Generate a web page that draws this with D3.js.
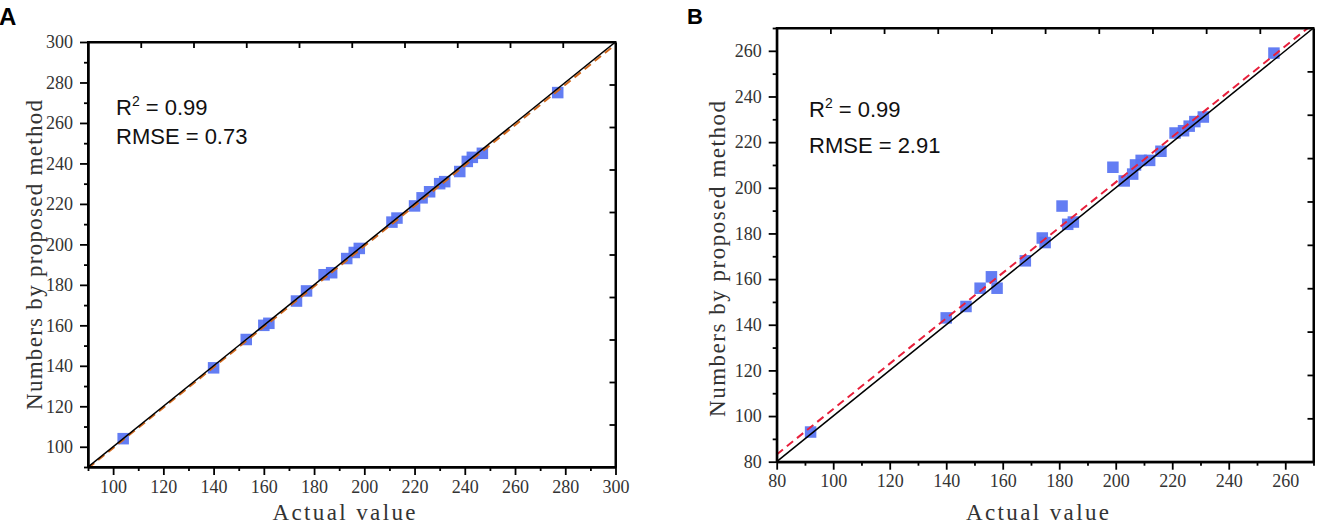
<!DOCTYPE html>
<html>
<head>
<meta charset="utf-8">
<script src="https://cdn.jsdelivr.net/npm/d3@7"></script>
<style>
  html, body { margin: 0; padding: 0; background: #fff; }
  svg { display: block; }
</style>
</head>
<body>
<svg id="chart" width="1320" height="528"></svg>
<script>
// ---------------- data ----------------
const actualA = [104,140,153,160,162,173,177,184,187,193,196,198,211,213,220,223,226,230,232,238,241,243,247,277];
const predA   = [104,139,153,160,161,172,177,185,186,193,196,198,211,213,219,223,226,230,231,236,241,243,245,275];
const actualB = [92,140,147,152,156,158,168,174,175,181,183,185,199,203,206,207,209,212,216,221,224,226,228,231,256];
const predB   = [93,143,148,156,161,156,168,178,176,192,184,185,209,203,206,210,212,212,216,224,225,227,229,231,259];
const fitA = [-0.3, 0.997];   // intercept, slope of fitted (dashed) line, panel A
const fitB = [3.7, 0.9936];   // intercept, slope of fitted (dashed) line, panel B
const statsA = ["0.99", "0.73"]; // R², RMSE
const statsB = ["0.99", "2.91"];
const domainA = [90, 300];
const domainB = [80, 270];
const majorA = [100,120,140,160,180,200,220,240,260,280,300];
const minorA = [90,110,130,150,170,190,210,230,250,270,290];
const mirrorA = [111,132,153,174,195,216,237,258,279];
const majorB = [80,100,120,140,160,180,200,220,240,260];
const minorB = [90,110,130,150,170,190,210,230,250,270];
const mirrorB = [99,118,137,156,175,194,213,232,251];

const svg = d3.select("#chart");
const serif = "'Liberation Serif', 'DejaVu Serif', serif";
const sans = "'Liberation Sans', Arial, sans-serif";

function panel(cfg) {
  const x = d3.scaleLinear().domain(cfg.domain).range([cfg.left, cfg.right]);
  const y = d3.scaleLinear().domain(cfg.domain).range([cfg.bottom, cfg.top]);
  const g = svg.append("g");

  // points
  g.append("g").selectAll("rect")
    .data(cfg.actual.map((a, i) => [a, cfg.pred[i]]))
    .join("rect")
    .attr("x", d => x(d[0]) - 5.75)
    .attr("y", d => y(d[1]) - 5.75)
    .attr("width", 11.5).attr("height", 11.5)
    .attr("fill", "#5672f2")
    .attr("fill-opacity", 0.92);

  // clip for lines
  const clipId = "clip" + cfg.id;
  svg.append("clipPath").attr("id", clipId)
    .append("rect").attr("x", cfg.left).attr("y", cfg.top)
    .attr("width", cfg.right - cfg.left).attr("height", cfg.bottom - cfg.top);

  const lines = g.append("g").attr("clip-path", `url(#${clipId})`);
  const d0 = cfg.domain[0], d1 = cfg.domain[1];
  // fitted dashed line
  lines.append("line")
    .attr("x1", x(d0)).attr("y1", y(cfg.fit[0] + cfg.fit[1] * d0))
    .attr("x2", x(d1)).attr("y2", y(cfg.fit[0] + cfg.fit[1] * d1))
    .attr("stroke", cfg.fitColor).attr("stroke-width", 2)
    .attr("stroke-dasharray", "8,5");
  // identity line
  lines.append("line")
    .attr("x1", x(d0)).attr("y1", y(d0))
    .attr("x2", x(d1)).attr("y2", y(d1))
    .attr("stroke", "#000").attr("stroke-width", 1.5);

  // axes
  const styleAxis = sel => {
    sel.select(".domain").attr("stroke", "#000").attr("stroke-width", 2);
    sel.selectAll(".tick line").attr("stroke", "#000").attr("stroke-width", 1.8);
    sel.selectAll(".tick text").attr("font-family", serif).attr("font-size", 18).attr("fill", "#333");
  };
  // bottom major
  g.append("g").attr("transform", `translate(0,${cfg.bottom})`)
    .call(d3.axisBottom(x).tickValues(cfg.major).tickSize(8).tickSizeOuter(0).tickPadding(5).tickFormat(d3.format("d")))
    .call(styleAxis);
  g.append("g").attr("transform", `translate(0,${cfg.bottom})`)
    .call(d3.axisBottom(x).tickValues(cfg.minor).tickSize(4).tickSizeOuter(0).tickFormat(""))
    .call(styleAxis);
  // left major
  g.append("g").attr("transform", `translate(${cfg.left},0)`)
    .call(d3.axisLeft(y).tickValues(cfg.major).tickSize(8).tickSizeOuter(0).tickPadding(7).tickFormat(d3.format("d")))
    .call(styleAxis);
  g.append("g").attr("transform", `translate(${cfg.left},0)`)
    .call(d3.axisLeft(y).tickValues(cfg.minor).tickSize(4).tickSizeOuter(0).tickFormat(""))
    .call(styleAxis);
  // top mirror (inward)
  g.append("g").attr("transform", `translate(0,${cfg.top})`)
    .call(d3.axisBottom(x).tickValues(cfg.mirror).tickSize(6).tickSizeOuter(0).tickFormat(""))
    .call(styleAxis);
  // right mirror (inward)
  g.append("g").attr("transform", `translate(${cfg.right},0)`)
    .call(d3.axisLeft(y).tickValues(cfg.mirror).tickSize(6).tickSizeOuter(0).tickFormat(""))
    .call(styleAxis);
  // frame
  g.append("rect")
    .attr("x", cfg.left).attr("y", cfg.top)
    .attr("width", cfg.right - cfg.left).attr("height", cfg.bottom - cfg.top)
    .attr("fill", "none").attr("stroke", "#000").attr("stroke-width", 2);

  // axis titles
  g.append("text")
    .attr("x", cfg.xTitleX).attr("y", cfg.xTitleY)
    .attr("text-anchor", "middle")
    .attr("font-family", serif).attr("font-size", 23).attr("fill", "#333")
    .attr("textLength", 143).attr("lengthAdjust", "spacing")
    .text("Actual value");
  g.append("text")
    .attr("transform", `translate(${cfg.yTitleX},${cfg.yTitleY}) rotate(-90)`)
    .attr("text-anchor", "middle")
    .attr("font-family", serif).attr("font-size", 23).attr("fill", "#333")
    .attr("textLength", cfg.yTitleLen).attr("lengthAdjust", "spacing")
    .text("Numbers by proposed method");

  // stats
  const t1 = g.append("text")
    .attr("x", cfg.statX).attr("y", cfg.statY)
    .attr("font-family", sans).attr("font-size", 22).attr("fill", "#111");
  t1.append("tspan").text("R");
  t1.append("tspan").attr("font-size", 14).attr("dy", -9).text("2");
  t1.append("tspan").attr("dy", 9).text(" = " + cfg.stats[0]);
  g.append("text")
    .attr("x", cfg.statX).attr("y", cfg.statY + cfg.statGap)
    .attr("font-family", sans).attr("font-size", 22).attr("fill", "#111")
    .text("RMSE = " + cfg.stats[1]);

  // panel letter
  g.append("text")
    .attr("x", cfg.letterX).attr("y", cfg.letterY)
    .attr("font-family", sans).attr("font-weight", "bold").attr("font-size", cfg.letterSize).attr("fill", "#000")
    .text(cfg.letter);
}

panel({
  id: "A", letter: "A", letterX: -1, letterY: 25, letterSize: 24,
  domain: domainA, left: 88, right: 615.5, top: 42, bottom: 467,
  actual: actualA, pred: predA, fit: fitA, fitColor: "#d2691e",
  major: majorA, minor: minorA, mirror: mirrorA,
  xTitleX: 344, xTitleY: 520, yTitleX: 42, yTitleY: 255, yTitleLen: 310,
  stats: statsA, statX: 116, statY: 115, statGap: 28.5
});

panel({
  id: "B", letter: "B", letterX: 687, letterY: 23.5, letterSize: 22,
  domain: domainB, left: 776.7, right: 1313.5, top: 28, bottom: 461.7,
  actual: actualB, pred: predB, fit: fitB, fitColor: "#e8203c",
  major: majorB, minor: minorB, mirror: mirrorB,
  xTitleX: 1037.5, xTitleY: 520, yTitleX: 725, yTitleY: 259, yTitleLen: 316,
  stats: statsB, statX: 809, statY: 116.5, statGap: 36.5
});
</script>
</body>
</html>
